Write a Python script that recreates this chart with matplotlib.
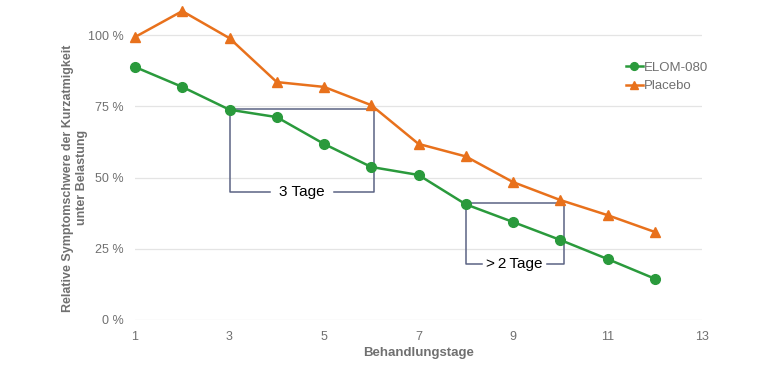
import numpy as np
import matplotlib.pyplot as plt

plt.rcParams['font.family'] = ['Liberation Sans', 'DejaVu Sans']

days = [1, 2, 3, 4, 5, 6, 7, 8, 9, 10, 11, 12]
elom = [88.8, 81.8, 73.8, 71.2, 61.8, 53.7, 50.9, 40.6, 34.4, 28.1, 21.4, 14.5]
placebo = [99.3, 108.4, 98.9, 83.5, 81.8, 75.4, 61.8, 57.4, 48.4, 42.1, 36.8, 30.9]

xticks = [1, 3, 5, 7, 9, 11, 13]
yticks = [0, 25, 50, 75, 100]
ytick_labels = ['0 %', '25 %', '50 %', '75 %', '100 %']

green = '#2a9a3c'
orange = '#e8711c'
bracket = '#5b6384'
gray = '#707070'

fig = plt.figure(figsize=(7.7, 3.66), dpi=100)
ax = fig.add_axes([135 / 770, 46 / 366, 567 / 770, 320 / 366])

for y in yticks:
    ax.axhline(y, color='#e4e4e4', lw=0.9, zorder=0)

ax.plot(days, elom, color=green, marker='o', ms=7, lw=1.8, label='ELOM-080', zorder=3, clip_on=False)
ax.plot(days, placebo, color=orange, marker='^', ms=7, lw=1.8, label='Placebo', zorder=3, clip_on=False)

# bracket: 3 Tage
top1, bot1 = 74.1, 45.0
ax.plot([3, 3, 3.86], [top1, bot1, bot1], color=bracket, lw=1.1, zorder=2)
ax.plot([3, 6.06], [top1, top1], color=bracket, lw=1.1, zorder=2)
ax.plot([5.21, 6.06, 6.06], [bot1, bot1, top1], color=bracket, lw=1.1, zorder=2)
ax.text(4.53, bot1, '3 Tage', ha='center', va='center', fontsize=11, color='black')

# bracket: >2 Tage
top2, bot2 = 41.0, 19.6
ax.plot([8, 8, 8.34], [top2, bot2, bot2], color=bracket, lw=1.1, zorder=2)
ax.plot([8, 10.08], [top2, top2], color=bracket, lw=1.1, zorder=2)
ax.plot([9.72, 10.08, 10.08], [bot2, bot2, top2], color=bracket, lw=1.1, zorder=2)
ax.text(9.03, bot2, '>\u20092\u2009Tage', ha='center', va='center', fontsize=11, color='black')

ax.set_xlim(1, 13)
ax.set_ylim(0, 112.3)
ax.set_xticks(xticks)
ax.set_yticks(yticks)
ax.set_yticklabels(ytick_labels)
ax.tick_params(length=0, labelsize=9, colors=gray)
ax.tick_params(axis='x', pad=8)
ax.tick_params(axis='y', pad=8)
for s in ax.spines.values():
    s.set_visible(False)

ax.set_xlabel('Behandlungstage', fontsize=9.5, fontweight='bold', color=gray)
ax.xaxis.set_label_coords(0.5, -0.085)
ax.set_ylabel('Relative Symptomschwere der Kurzatmigkeit\nunter Belastung', fontsize=9,
              fontweight='bold', color=gray)
ax.yaxis.set_label_coords(-0.083, 0.444)

fig.legend(loc='upper left', bbox_to_anchor=(614 / 770, 1 - 50 / 366), frameon=False,
           fontsize=9.5, handlelength=1.3, handletextpad=0.1, labelspacing=0.45,
           markerscale=0.8, labelcolor=gray)

fig.savefig('out.png', dpi=100)
